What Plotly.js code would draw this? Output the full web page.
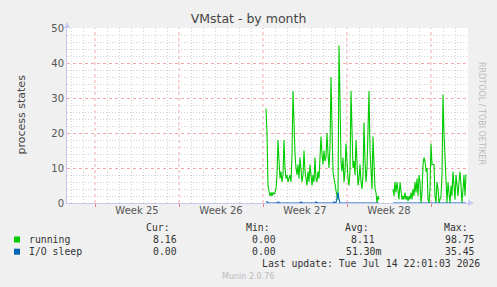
<!DOCTYPE html>
<html><head><meta charset="utf-8">
<script src="https://cdn.plot.ly/plotly-3.0.1.min.js"></script>
<style>html,body{margin:0;padding:0;background:#F0F0F0;}#chart{width:497px;height:287px;}</style>
</head><body><div id="chart"></div>
<script>
// ---- data ----
var seriesNames = ["running", "I/O sleep"];
var seriesColors = ["#00CC00", "#0066B3"];
var startTime = "2026-06-29 06:00";   // first sample
var stepHours = 2;                     // sample interval (munin month RRA)
var running = [27,20,5,3,2,3,2,3,2.5,3,4,8,18,12,7,9,6,8,18,10,7,8,6,7,8,6,14,32,20,14,10,8,11,7,13,9,6,8,15,9,6,5,9,6,11,7,5,8,6,13,7,6,9,7,12,19,14,11,15,12,13,20,14,10,16,36,22,9,7,5,4,2,1,45,30,12,9,13,6,9,17,10,7,5,9,32,18,10,12,8,18,9,5,7,11,6,4,8,23,12,6,10,20,32,15,8,4,19,10,4,3,0,2,1,
 null,null,null,null,null,null,null,null,null,null,null,null,null,
 4,2,6,3,6,4,1,6,3,1,2,1,3,1,2,0.5,2,1,3,1,4,2,6,3,7,2,8,6,0,3,11,13,12,9,10,1,0,4,17,11,11,11,2,0,6,4,0,1,2,8,31,20,12,3,0,6,3,0,5,2,9,3,1,8,4,2,6,9,5,0,4,8,2,8.16];
var ioSleep = [0.4,0.2,0,0,0,0,0,0,0,0,0,0,0.3,0,0,0,0,0,0,0,0,0,0,0,0,0,0,0,0,0,0,0,0,0,0,0.3,0,0,0,0,0,0,0,0,0,0,0,0,0,0,0.3,0,0,0,0,0,0,0,0,0,0,0,0,0,0,0,0,0,0.3,0,0,1.5,3,1,0,0,0,0,0,0,0,0,0,0,0,0,0,0,0,0,0,0,0,0,0,0,0,0,0,0,0,0,0,0,0,0,0,0,0,0,0,0,0,0,
 null,null,null,null,null,null,null,null,null,null,null,null,null,
 0,0,0,0,0,0,0,0,0,0,0,0,0,0,0,0,0,0,0,0,0,0,0,0,0,0,0,0,0,0,0,0,0,0,0,0,0,0,0,0,0,0,0,0,0,0,0,0,0,0,0,0,0,0,0,0,0,0,0,0,0,0,0,0,0,0,0,0,0,0,0,0,0,0];
var weekLabels = ["Week 25", "Week 26", "Week 27", "Week 28"];
var weekMid = ["2026-06-18 12:00", "2026-06-25 12:00", "2026-07-02 12:00", "2026-07-09 12:00"];
var xRange = ["2026-06-12 16:00", "2026-07-16 02:00"];
var weekStart = "2026-06-15";
var yMax = 50;
var statHeaders = ["Cur:", "Min:", "Avg:", "Max:"];
var statCur = ["8.16", "0.00"];
var statMin = ["0.00", "0.00"];
var statAvg = ["8.11", "51.30m"];
var statMax = ["98.75", "35.45"];
var lastUpdate = "Last update: Tue Jul 14 22:01:03 2026";
var footer = "Munin 2.0.76";
var title = "VMstat - by month";
var yTitle = "process states";

// ---- build time axis ----
function toMs(s){var p=s.split(/[- :]/).map(Number);return Date.UTC(p[0],p[1]-1,p[2],p[3]||0,p[4]||0);}
var t0 = toMs(startTime);
function times(n){var a=[];for(var i=0;i<n;i++)a.push(t0+i*stepHours*3600000);return a;}
var DAY=86400000;
var dayGrid=[], weekGrid=[];
(function(){var a=toMs(xRange[0]),b=toMs(xRange[1]),w=toMs(weekStart);
  for(var t=w-7*DAY;t<=b;t+=DAY){ if(t<a) continue; if(((t-w)/DAY)%7===0) weekGrid.push(t); else dayGrid.push(t);} })();

// ---- pixel helpers for paper-placed decorations ----
var L=67,R=468,T=28,B=203;
function fx(px){return (px-L)/(R-L);}
function fy(py){return (B-py)/(B-T);}

var traces = [
 {x: times(running.length), y: running, type:'scatter', mode:'lines', name:seriesNames[0],
  line:{color:seriesColors[0], width:1.1}, connectgaps:false, xaxis:'x', yaxis:'y'},
 {x: times(ioSleep.length), y: ioSleep, type:'scatter', mode:'lines', name:seriesNames[1],
  line:{color:seriesColors[1], width:1.1}, connectgaps:false, xaxis:'x2', yaxis:'y'}
];

var mono = {family:'DejaVu Sans Mono', size:9.8, color:'#333'};
var ann = [];
ann.push({xref:'paper',yref:'paper',x:fx(12),y:fy(115),text:yTitle,textangle:-90,showarrow:false,
  font:{family:'DejaVu Sans',size:11,color:'#444'}});
ann.push({xref:'paper',yref:'paper',x:fx(488),y:fy(60),text:'RRDTOOL / TOBI OETIKER',textangle:90,showarrow:false,
  font:{family:'DejaVu Sans',size:8,color:'#bbb'}});
var hdrRight=[172,272,371,470];
statHeaders.forEach(function(h,i){ann.push({xref:'paper',yref:'paper',x:fx(hdrRight[i]),y:fy(227),xanchor:'right',yanchor:'middle',text:h,showarrow:false,font:mono});});
var rowsY=[239.5,251.7];
var valRight=[[179,278,377,477],[179,278,383,477]];
for (var r=0;r<2;r++){
  ann.push({xref:'paper',yref:'paper',x:fx(27),y:fy(rowsY[r]),xanchor:'left',yanchor:'middle',text:seriesNames[r],showarrow:false,font:mono});
  var vals=[statCur[r],statMin[r],statAvg[r],statMax[r]];
  for (var c=0;c<4;c++) ann.push({xref:'paper',yref:'paper',x:fx(valRight[r][c]),y:fy(rowsY[r]),xanchor:'right',yanchor:'middle',text:vals[c],showarrow:false,font:mono});
}
ann.push({xref:'paper',yref:'paper',x:fx(482),y:fy(263.3),xanchor:'right',yanchor:'middle',text:lastUpdate,showarrow:false,font:mono});
ann.push({xref:'paper',yref:'paper',x:fx(248),y:fy(276),xanchor:'center',yanchor:'middle',text:footer,showarrow:false,
  font:{family:'DejaVu Sans',size:8,color:'#bbb'}});

var majorGrid='#f2a8a8', minorGrid='#d2d2d2';
var shapes = [];
// weekly major grid lines (red dotted)
weekGrid.forEach(function(t){
  shapes.push({type:'line',xref:'x',yref:'paper',x0:t,x1:t,y0:0,y1:1,layer:'below',line:{color:majorGrid,width:1,dash:'dot'}});
});
for (var r2=0;r2<2;r2++){
  var cy=rowsY[r2];
  shapes.push({type:'rect',xref:'paper',yref:'paper',x0:fx(14),x1:fx(20),y0:fy(cy+3),y1:fy(cy-3),fillcolor:seriesColors[r2],line:{width:0}});
}
function tri(pts){return 'M'+pts.map(function(p){return fx(p[0])+','+fy(p[1]);}).join(' L')+' Z';}
shapes.push({type:'path',xref:'paper',yref:'paper',path:tri([[64,28],[70,28],[67,22]]),fillcolor:'#c8c8f0',line:{width:0}});
shapes.push({type:'path',xref:'paper',yref:'paper',path:tri([[468,200],[468,206],[474,203]]),fillcolor:'#c8c8f0',line:{width:0}});

var layout = {
  width:497, height:287,
  margin:{l:L, r:497-R, t:T, b:287-B},
  paper_bgcolor:'#F0F0F0', plot_bgcolor:'#FFFFFF',
  showlegend:false,
  title:{text:title, font:{family:'DejaVu Sans',size:12.5,color:'#444'}, xref:'container', x:0.5, xanchor:'center', yref:'container', y:1-19/287, yanchor:'middle'},
  xaxis:{type:'date', range:xRange, tick0:weekStart, dtick:7*DAY, showticklabels:false,
    showgrid:false,
    ticks:'outside', ticklen:3, tickcolor:'#e08080',
    minor:{tickmode:'array', tickvals:dayGrid, showgrid:true, gridcolor:minorGrid, griddash:'1px,2px', gridwidth:1, ticks:''},
    showline:true, linecolor:'#c8c8f0', linewidth:1, zeroline:false, fixedrange:true},
  xaxis2:{type:'date', range:xRange, overlaying:'x', anchor:'y', side:'bottom',
    tickmode:'array', tickvals:weekMid, ticktext:weekLabels, ticks:'', showgrid:false, showline:false, zeroline:false,
    tickfont:{family:'DejaVu Sans',size:10,color:'#555'}},
  yaxis:{range:[0,yMax], dtick:10, tick0:0, showgrid:true, gridcolor:majorGrid, griddash:'dot', gridwidth:1,
    minor:{dtick:2, showgrid:true, gridcolor:minorGrid, griddash:'1px,2px', gridwidth:1, ticks:''},
    showline:true, linecolor:'#c8c8f0', linewidth:1, zeroline:false, ticks:'',
    tickfont:{family:'DejaVu Sans',size:10,color:'#555'}},
  annotations:ann, shapes:shapes
};
Plotly.newPlot('chart', traces, layout, {staticPlot:true, displayModeBar:false});
</script></body></html>
